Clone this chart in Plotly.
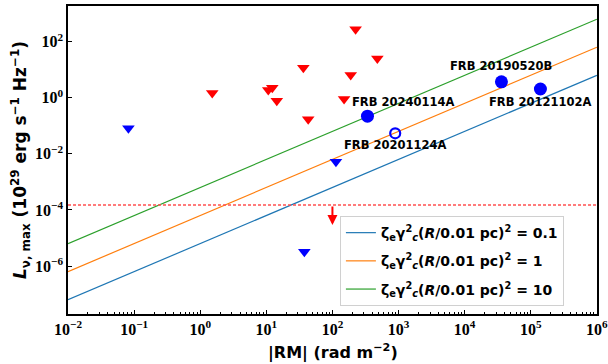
import plotly.graph_objects as go
import numpy as np

# ---- data ----
red_rm = [1.52, 10.7, 12.3, 14.4, 36.3, 43.0, 150.0, 189.0, 224.0, 478.0]
red_L = [1.48, 1.88, 2.27, 0.78, 11.8, 0.17, 0.9, 6.5, 278.0, 25.0]

blue_tri_rm = [0.082, 113.0, 37.6]
blue_tri_L = [0.081, 0.0052, 3.2e-6]

frb_names = ["FRB 20240114A", "FRB 20190520B", "FRB 20121102A"]
frb_rm = [339.0, 3.6e4, 1.4e5]
frb_L = [0.22, 3.7, 2.05]

open_name = ["FRB 20201124A"]
open_rm = [890.0]
open_L = [0.054]

limit_L = 1.5e-4
arrow_rm = [100.0]
arrow_tip_L = [2.9e-5]

model_k = [0.1, 1, 10]
model_labels = ["0.1", "1", "10"]
model_coef = 10 ** -4.2
rm_line = [1e-2, 1e6]

colors = ["#1f77b4", "#ff7f0e", "#2ca02c"]

fig = go.Figure()

for i, (k, lab, c) in enumerate(zip(model_k, model_labels, colors)):
    fig.add_trace(go.Scatter(
        x=rm_line, y=[model_coef * k * r for r in rm_line], mode="lines",
        line=dict(color=c, width=1.2), legendgroup="g%d" % i,
        name="<b>ζ<sub>e</sub>γ<sup>2</sup><sub><i>c</i></sub>(<i>R</i>/0.01 pc)<sup>2</sup> = " + lab + "</b>",
    ))

fig.add_trace(go.Scatter(x=rm_line, y=[limit_L, limit_L], mode="lines",
                         line=dict(color="#ff5050", width=1.3, dash="3px,2px"),
                         showlegend=False))

fig.add_trace(go.Scatter(x=red_rm, y=red_L, mode="markers",
                         marker=dict(symbol="triangle-down", size=11, color="red"),
                         showlegend=False))
fig.add_trace(go.Scatter(x=blue_tri_rm, y=blue_tri_L, mode="markers",
                         marker=dict(symbol="triangle-down", size=11, color="blue"),
                         showlegend=False))
fig.add_trace(go.Scatter(x=frb_rm, y=frb_L, mode="markers",
                         marker=dict(symbol="circle", size=13, color="blue"),
                         showlegend=False))
fig.add_trace(go.Scatter(x=open_rm, y=open_L, mode="markers",
                         marker=dict(symbol="circle-open", size=10, color="blue",
                                     line=dict(width=2.2, color="blue")),
                         showlegend=False))

# arrow from the limit line
for r, tip in zip(arrow_rm, arrow_tip_L):
    fig.add_annotation(x=np.log10(r), y=np.log10(tip), ax=np.log10(r), ay=np.log10(limit_L),
                       xref="x", yref="y", axref="x", ayref="y", showarrow=True,
                       arrowhead=2, arrowsize=1, arrowwidth=2, arrowcolor="red", text="")

label_font = dict(family="DejaVu Sans", size=11.5, color="black", weight="bold")
shifts = {"FRB 20240114A": (36, 14), "FRB 20190520B": (0, 16), "FRB 20121102A": (0, -13),
          "FRB 20201124A": (0, -12)}
for n, r, l in zip(frb_names + open_name, frb_rm + open_rm, frb_L + open_L):
    dx, dy = shifts[n]
    fig.add_annotation(x=np.log10(r), y=np.log10(l), text=n, showarrow=False,
                       xanchor="center", yanchor="middle", xshift=dx, yshift=dy,
                       font=label_font)

tick_font = dict(family="Liberation Serif", size=16, color="black", weight="bold")
x_vals = [10.0 ** p for p in range(-2, 7)]
x_text = ["10<sup>" + str(p).replace("-", "−") + "</sup>" for p in range(-2, 7)]
y_vals = [10.0 ** p for p in range(-6, 3, 2)]
y_text = ["10<sup>" + str(p).replace("-", "−") + "</sup>" for p in range(-6, 3, 2)]

fig.update_xaxes(type="log", range=[-2, 6.002], tickmode="array", tickvals=x_vals, ticktext=x_text,
                 tickfont=tick_font, ticks="inside", ticklen=4, tickcolor="black",
                 ticklabeloverflow="allow",
                 showline=True, linecolor="black", linewidth=1.5, mirror=True, showgrid=False,
                 zeroline=False, automargin=False,
                 minor=dict(ticks="inside", ticklen=2, tickcolor="black", dtick="D1", showgrid=False))
fig.update_yaxes(type="log", range=[-7.71, 3.27], tickmode="array", tickvals=y_vals, ticktext=y_text,
                 tickfont=tick_font, ticks="inside", ticklen=4, tickcolor="black",
                 ticklabeloverflow="allow",
                 showline=True, linecolor="black", linewidth=1.5, mirror=True, showgrid=False,
                 zeroline=False, automargin=False)

fig.add_annotation(text="<b>|RM| (rad m<sup>−2</sup>)</b>", xref="paper", yref="paper",
                   x=0.5, y=-0.123, xanchor="center", yanchor="middle", showarrow=False,
                   font=dict(family="DejaVu Sans", size=16, color="black"))
fig.add_annotation(text="<b><i>L</i><sub>ν, max</sub> (10<sup>29</sup> erg s<sup>−1</sup> Hz<sup>−1</sup>)</b>",
                   xref="paper", yref="paper", x=-0.0907, y=0.5, xanchor="center", yanchor="middle",
                   textangle=-90, showarrow=False,
                   font=dict(family="DejaVu Sans", size=17, color="black"))

fig.update_layout(
    width=608, height=364,
    margin=dict(l=68, r=11, t=6, b=50),
    plot_bgcolor="white", paper_bgcolor="white",
    legend=dict(x=0.514, y=0.318, xanchor="left", yanchor="top", tracegroupgap=7,
                bgcolor="rgba(255,255,255,0.9)", bordercolor="#d0d0d0", borderwidth=1,
                font=dict(family="DejaVu Sans", size=14, color="black")),
)

fig.write_html("out.html", config={"displayModeBar": False},
               post_script="document.body.style.margin='0';")
